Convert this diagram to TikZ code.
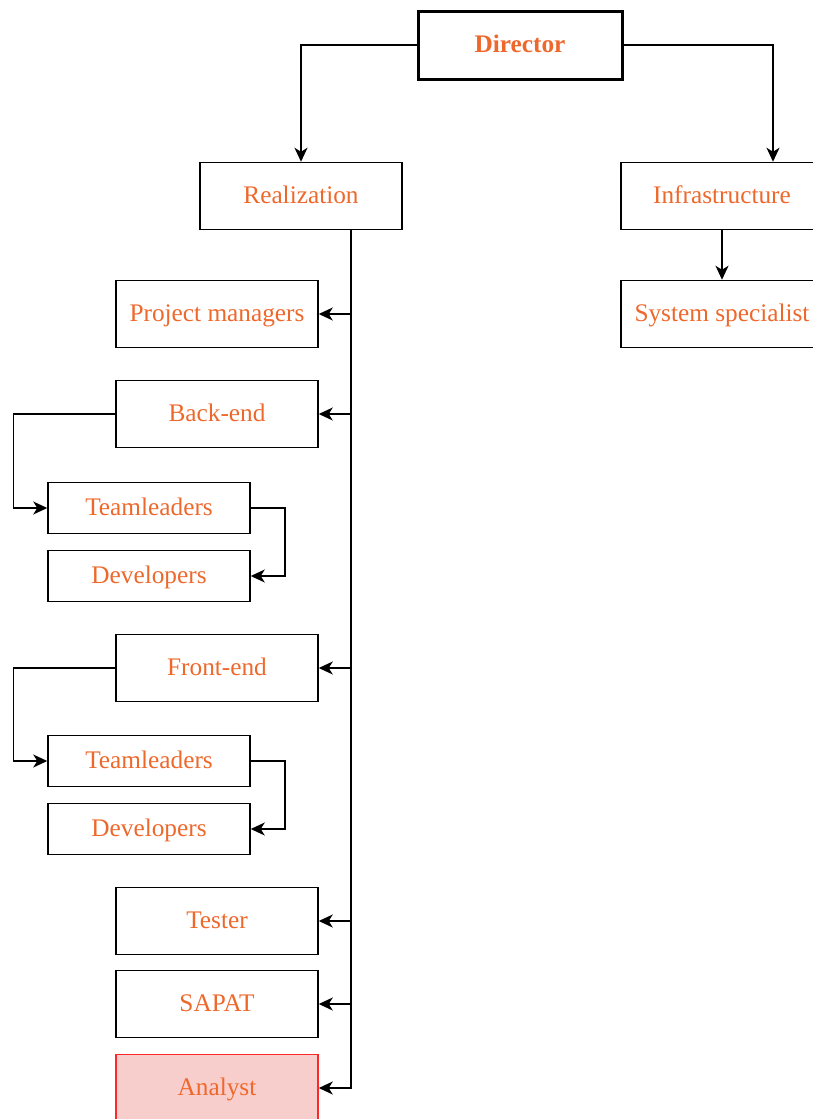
\documentclass[tikz,border=0pt]{standalone}
\usepackage{fontspec}
\setmainfont{Liberation Serif}
\usetikzlibrary{arrows.meta}
\definecolor{labelorange}{RGB}{238,104,44}
\definecolor{analystfill}{RGB}{248,206,204}
\definecolor{analystline}{RGB}{255,40,40}
\tikzset{
  unit/.style={draw, line width=1.5pt, minimum width=202pt, minimum height=67pt,
    text=labelorange, font=\fontsize{25.3}{30}\selectfont, inner sep=0pt,
    text height=18pt, text depth=3pt},
  team/.style={unit, minimum height=51pt},
  conn/.style={->, line width=1.5pt}
}
\begin{document}
\begin{tikzpicture}[x=1pt,y=-1pt,>={Stealth[length=14pt,width=13pt,inset=4pt]}]
    \useasboundingbox (0,0) rectangle (813,1119);
    \clip (0,0) rectangle (813,1119);
    % top level
    \node[unit, line width=3pt, minimum width=204pt, minimum height=68pt, font=\fontsize{25.3}{30}\selectfont\bfseries] (dir) at (520,45) {Director};
    \node[unit] (real) at (301,196) {Realization};
    \node[unit] (infra) at (722,196) {Infrastructure};
    \node[unit] (sys) at (722,314) {System specialist};
    \draw[conn] (dir.west) -| (real.north);
    \draw[conn] (dir.east) -| ([xshift=51pt]infra.north);
    \draw[conn] (infra.south) -- (sys.north);
    % realization
    \node[unit] (pm) at (217,314) {Project managers};
    \node[unit] (back) at (217,414) {Back-end};
    \node[team] (backlead) at (149,508) {Teamleaders};
    \node[team] (backdev) at (149,576) {Developers};
    \node[unit] (front) at (217,668) {Front-end};
    \node[team] (frontlead) at (149,761) {Teamleaders};
    \node[team] (frontdev) at (149,829) {Developers};
    \node[unit] (test) at (217,921) {Tester};
    \node[unit] (sapat) at (217,1004) {SAPAT};
    \node[unit, draw=analystline, fill=analystfill] (anal) at (217,1088) {Analyst};
    \foreach \t in {pm,back,front,test,sapat,anal}
        \draw[conn] ([xshift=50pt]real.south) |- (\t.east);
    \draw[conn] (back.west) -- ++(-102,0) |- (backlead.west);
    \draw[conn] (backlead.east) -- ++(34,0) |- (backdev.east);
    \draw[conn] (front.west) -- ++(-102,0) |- (frontlead.west);
    \draw[conn] (frontlead.east) -- ++(34,0) |- (frontdev.east);
\end{tikzpicture}
\end{document}
